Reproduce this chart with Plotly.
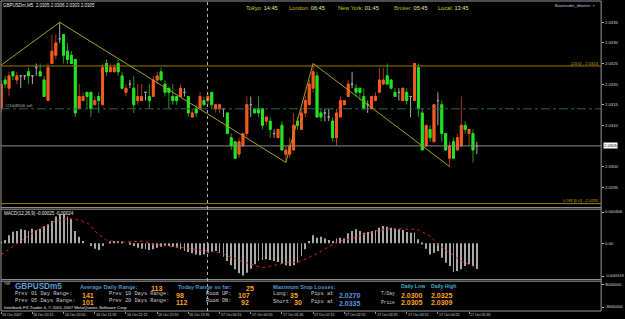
import plotly.graph_objects as go

W, H = 625, 319

# ---------------- data (GBPUSDm, M5) ----------------
opens = [2.0314, 2.0321, 2.0319, 2.0323, 2.0321, 2.0322, 2.0322, 2.0323, 2.0322, 2.0324,
         2.0323, 2.0321, 2.0316, 2.0325, 2.0327, 2.0331, 2.0332, 2.0328, 2.0327, 2.0326,
         2.0314, 2.0316, 2.0318, 2.0318, 2.0315, 2.0317, 2.0315, 2.0325, 2.0323, 2.0323,
         2.0325, 2.0322, 2.0318, 2.0320, 2.0319, 2.0316, 2.0316, 2.0318, 2.0317, 2.0317,
         2.0321, 2.0323, 2.0320, 2.0319, 2.0317, 2.0317, 2.0317, 2.0318, 2.0317, 2.0312,
         2.0314, 2.0314, 2.0316, 2.0316, 2.0318, 2.0314, 2.0314, 2.0314, 2.0313, 2.0307,
         2.0306, 2.0303, 2.0305, 2.0308, 2.0315, 2.0314, 2.0314, 2.0314, 2.0311, 2.0311,
         2.0308, 2.0307, 2.0310, 2.0303, 2.0303, 2.0304, 2.0311, 2.0309, 2.0313, 2.0315,
         2.0319, 2.0322, 2.0313, 2.0313, 2.0312, 2.0311, 2.0307, 2.0312, 2.0315, 2.0317,
         2.0320, 2.0319, 2.0319, 2.0317, 2.0315, 2.0314, 2.0316, 2.0318, 2.0320, 2.0322,
         2.0321, 2.0318, 2.0318, 2.0316, 2.0318, 2.0317, 2.0316, 2.0324, 2.0313, 2.0305,
         2.0309, 2.0306, 2.0316, 2.0315, 2.0308, 2.0302, 2.0306, 2.0304, 2.0305, 2.0310,
         2.0308, 2.0308, 2.0305]
highs = [2.0321, 2.0322, 2.0323, 2.0323, 2.0323, 2.0322, 2.0322, 2.0324, 2.0322, 2.0325,
         2.0325, 2.0322, 2.0325, 2.0332, 2.0332, 2.0335, 2.0332, 2.0330, 2.0328, 2.0326,
         2.0320, 2.0318, 2.0318, 2.0318, 2.0317, 2.0318, 2.0325, 2.0326, 2.0325, 2.0325,
         2.0326, 2.0323, 2.0320, 2.0321, 2.0322, 2.0320, 2.0320, 2.0318, 2.0320, 2.0322,
         2.0323, 2.0324, 2.0321, 2.0319, 2.0320, 2.0317, 2.0320, 2.0319, 2.0317, 2.0314,
         2.0315, 2.0318, 2.0317, 2.0318, 2.0318, 2.0315, 2.0315, 2.0314, 2.0313, 2.0308,
         2.0306, 2.0307, 2.0308, 2.0317, 2.0317, 2.0314, 2.0317, 2.0314, 2.0312, 2.0312,
         2.0309, 2.0309, 2.0311, 2.0305, 2.0307, 2.0313, 2.0312, 2.0314, 2.0317, 2.0321,
         2.0325, 2.0323, 2.0314, 2.0314, 2.0314, 2.0312, 2.0314, 2.0317, 2.0316, 2.0321,
         2.0323, 2.0320, 2.0319, 2.0319, 2.0316, 2.0317, 2.0318, 2.0324, 2.0324, 2.0325,
         2.0321, 2.0319, 2.0319, 2.0319, 2.0319, 2.0317, 2.0325, 2.0325, 2.0314, 2.0310,
         2.0310, 2.0315, 2.0318, 2.0316, 2.0308, 2.0306, 2.0307, 2.0308, 2.0317, 2.0311,
         2.0309, 2.0309, 2.0306]
lows = [2.0313, 2.0319, 2.0317, 2.0321, 2.0320, 2.0319, 2.0321, 2.0320, 2.0320, 2.0322,
        2.0322, 2.0317, 2.0316, 2.0325, 2.0326, 2.0330, 2.0325, 2.0325, 2.0325, 2.0312,
        2.0314, 2.0316, 2.0314, 2.0312, 2.0315, 2.0313, 2.0315, 2.0322, 2.0323, 2.0323,
        2.0322, 2.0319, 2.0317, 2.0319, 2.0313, 2.0315, 2.0316, 2.0316, 2.0314, 2.0317,
        2.0320, 2.0321, 2.0317, 2.0314, 2.0315, 2.0315, 2.0317, 2.0317, 2.0312, 2.0312,
        2.0312, 2.0314, 2.0315, 2.0315, 2.0314, 2.0313, 2.0313, 2.0312, 2.0308, 2.0304,
        2.0302, 2.0302, 2.0305, 2.0307, 2.0312, 2.0313, 2.0312, 2.0309, 2.0310, 2.0307,
        2.0307, 2.0307, 2.0304, 2.0301, 2.0302, 2.0304, 2.0309, 2.0309, 2.0312, 2.0315,
        2.0318, 2.0312, 2.0311, 2.0311, 2.0311, 2.0306, 2.0305, 2.0312, 2.0315, 2.0317,
        2.0319, 2.0317, 2.0316, 2.0314, 2.0313, 2.0314, 2.0316, 2.0318, 2.0320, 2.0320,
        2.0319, 2.0317, 2.0316, 2.0316, 2.0315, 2.0312, 2.0316, 2.0312, 2.0304, 2.0305,
        2.0306, 2.0306, 2.0310, 2.0306, 2.0304, 2.0300, 2.0302, 2.0304, 2.0305, 2.0308,
        2.0305, 2.0301, 2.0303]
closes = [2.0320, 2.0320, 2.0322, 2.0322, 2.0322, 2.0322, 2.0322, 2.0322, 2.0322, 2.0324,
          2.0322, 2.0317, 2.0324, 2.0328, 2.0330, 2.0331, 2.0327, 2.0326, 2.0325, 2.0313,
          2.0317, 2.0317, 2.0317, 2.0314, 2.0316, 2.0316, 2.0324, 2.0323, 2.0324, 2.0324,
          2.0323, 2.0319, 2.0319, 2.0320, 2.0315, 2.0317, 2.0317, 2.0318, 2.0316, 2.0321,
          2.0322, 2.0321, 2.0318, 2.0318, 2.0316, 2.0316, 2.0319, 2.0318, 2.0313, 2.0313,
          2.0313, 2.0317, 2.0315, 2.0317, 2.0315, 2.0315, 2.0315, 2.0314, 2.0308, 2.0305,
          2.0302, 2.0306, 2.0308, 2.0315, 2.0315, 2.0313, 2.0313, 2.0310, 2.0312, 2.0309,
          2.0308, 2.0309, 2.0304, 2.0304, 2.0305, 2.0310, 2.0310, 2.0313, 2.0316, 2.0320,
          2.0323, 2.0312, 2.0312, 2.0313, 2.0312, 2.0307, 2.0313, 2.0316, 2.0316, 2.0320,
          2.0320, 2.0318, 2.0318, 2.0314, 2.0315, 2.0317, 2.0317, 2.0321, 2.0321, 2.0320,
          2.0319, 2.0317, 2.0318, 2.0319, 2.0316, 2.0317, 2.0325, 2.0314, 2.0304, 2.0310,
          2.0307, 2.0315, 2.0316, 2.0308, 2.0304, 2.0305, 2.0302, 2.0307, 2.0310, 2.0309,
          2.0309, 2.0304, 2.0305]

# MACD(12,26,9) main (histogram) and signal, in units of 1e-6
macd_main_e6 = [13, 33, 78, 114, 121, 137, 130, 121, 143, 130,
                143, 170, 186, 218, 261, 284, 284, 261, 241, 121,
                65, 23, 0, -26, -52, -65, -26, 0, 13, 23,
                23, 13, 0, -13, -26, -42, -52, -59, -65, -59,
                -42, -33, -26, -26, -33, -42, -59, -75, -85, -98,
                -108, -117, -108, -91, -85, -75, -91, -130, -173, -215,
                -254, -293, -313, -287, -248, -205, -173, -163, -156, -163,
                -173, -183, -196, -215, -222, -215, -189, -124, -59, 23,
                78, 55, 65, 46, 33, 23, 46, 55, 46, 98,
                121, 137, 121, 104, 111, 121, 130, 153, 170, 163,
                153, 143, 137, 130, 111, 104, 104, 39, -10, -52,
                -108, -91, -75, -140, -189, -222, -280, -271, -254, -222,
                -205, -222, -250]
macd_signal_e6 = [-108, -82, -55, -28, -5, 20, 45, 75, 104, 125,
                  145, 165, 186, 200, 215, 228, 236, 241, 241, 235,
                  225, 213, 202, 170, 121, 85, 55, 33, 25, 18,
                  13, 12, 12, 13, 13, 18, 23, 15, 5, -10,
                  -14, -17, -20, -23, -26, -32, -37, -43, -48, -54,
                  -59, -64, -70, -75, -80, -86, -91, -106, -122, -140,
                  -153, -166, -179, -192, -205, -216, -227, -238, -232, -222,
                  -214, -205, -197, -189, -187, -185, -183, -169, -155, -140,
                  -120, -100, -80, -59, -35, -11, 13, 21, 30, 38,
                  46, 60, 74, 88, 99, 110, 121, 127, 132, 138,
                  143, 143, 143, 143, 143, 143, 137, 130, 111, 91,
                  72, 31, -10, -37, -64, -91, -118, -145, -173, -189,
                  -205, -222, -240]

time_labels = ["16 Oct 2007", "16 Oct 20:15", "16 Oct 20:55", "16 Oct 21:35", "16 Oct 22:15",
               "16 Oct 22:55", "16 Oct 23:35", "17 Oct 00:15", "17 Oct 00:55", "17 Oct 01:35",
               "17 Oct 02:15", "17 Oct 02:55", "17 Oct 03:35", "17 Oct 04:15", "17 Oct 04:55",
               "17 Oct 05:35"]
time_label_bars = [0, 8, 16, 24, 32, 40, 48, 56, 64, 72, 80, 88, 96, 104, 112, 120]

price_ticks = [2.0295, 2.0300, 2.0310, 2.0315, 2.0320, 2.0325, 2.0330, 2.0335]
macd_ticks = [0.000306, 0.0, -0.000319]
macd_tick_text = ["0.000306", "0.00", "-0.000319"]

zigzag_bars = [-0.3, 15, 73, 80, 115]
zigzag_prices = [2.03244, 2.0335, 2.0301, 2.0325, 2.0300]

fib_236_price = 2.03244
fib_low_price = 2.0291
bid_price = 2.0305
order_price = 2.0314
order_label = "#21008506 sell"
day_sep_bar = 52.9

# ---------------- helpers ----------------
def py(y):
    return 1 - y / H


def pxx(x):
    return x / W


n = len(opens)
idx = list(range(n))
up = [i for i in idx if closes[i] > opens[i]]
dn = [i for i in idx if closes[i] < opens[i]]
dj = [i for i in idx if closes[i] == opens[i]]


def candles(ids, full, line_color, fill_color):
    o = [opens[i] for i in ids]
    c = [closes[i] for i in ids]
    if full:
        h = [highs[i] for i in ids]
        l = [lows[i] for i in ids]
    else:
        h = [max(a, b) for a, b in zip(o, c)]
        l = [min(a, b) for a, b in zip(o, c)]
    style = dict(line=dict(color=line_color, width=1), fillcolor=fill_color)
    return go.Candlestick(x=ids, open=o, high=h, low=l, close=c,
                          increasing=style, decreasing=style, whiskerwidth=0,
                          hoverinfo="skip", showlegend=False, xaxis="x", yaxis="y")


UP_FILL, UP_WICK = "#f45a1e", "#a8381a"
DN_FILL, DN_WICK = "#22e422", "#1b9a1b"
DOJI = "#a8a8a8"

fig = go.Figure()
fig.add_trace(candles(up, True, UP_WICK, UP_WICK))
fig.add_trace(candles(dn, True, DN_WICK, DN_WICK))
fig.add_trace(candles(up, False, UP_FILL, UP_FILL))
fig.add_trace(candles(dn, False, DN_FILL, DN_FILL))
fig.add_trace(candles(dj, True, DOJI, DOJI))

# zigzag
fig.add_trace(go.Scatter(x=zigzag_bars, y=zigzag_prices, mode="lines",
                         line=dict(color="#a8a020", width=1), hoverinfo="skip",
                         showlegend=False, xaxis="x", yaxis="y"))

# MACD
fig.add_trace(go.Bar(x=idx, y=[v * 1e-6 for v in macd_main_e6], width=0.22,
                     marker=dict(color="#a9a9a9", line=dict(width=0)),
                     hoverinfo="skip", showlegend=False, xaxis="x", yaxis="y2"))
fig.add_trace(go.Scatter(x=idx, y=[v * 1e-6 for v in macd_signal_e6], mode="lines",
                         line=dict(color="#d42020", width=1, dash="dot"),
                         hoverinfo="skip", showlegend=False, xaxis="x", yaxis="y2"))
# info panel axis holder
fig.add_trace(go.Scatter(x=[None], y=[None], mode="markers", showlegend=False,
                         hoverinfo="skip", xaxis="x", yaxis="y3"))

AX_FONT = dict(family="Liberation Sans", size=4.2, color="#d8d8d8")
price_lo = 2.0335 - (207 - 22.3) / 41200
price_hi = 2.0335 + (22.3 - 3) / 41200

fig.update_layout(
    width=W, height=H, margin=dict(l=0, r=0, t=0, b=0),
    paper_bgcolor="#000000", plot_bgcolor="#000000", showlegend=False,
    font=dict(family="Liberation Sans", color="#d8d8d8"),
    xaxis=dict(domain=[pxx(1), pxx(606)], range=[-0.06, 153.88], anchor="y3",
               showgrid=False, zeroline=False, showline=False, showticklabels=False,
               ticks="outside", ticklen=2, tickcolor="#909090", tickvals=time_label_bars,
               rangeslider=dict(visible=False), fixedrange=True),
    yaxis=dict(domain=[py(207), py(3)], range=[price_lo, price_hi], side="right", anchor="x",
               showgrid=False, zeroline=False, showline=False,
               tickvals=price_ticks, ticktext=[f"{p:.4f}" for p in price_ticks],
               ticks="outside", ticklen=2, tickcolor="#c0c0c0", tickfont=AX_FONT),
    yaxis2=dict(domain=[py(279.5), py(209.5)], range=[-0.0003532, 0.0003304], side="right",
                anchor="x", showgrid=False, zeroline=False, showline=False,
                tickvals=macd_ticks, ticktext=macd_tick_text,
                ticks="outside", ticklen=2, tickcolor="#c0c0c0", tickfont=AX_FONT),
    yaxis3=dict(domain=[py(311), py(281)], range=[0, 1], side="right", anchor="x",
                showgrid=False, zeroline=False, showline=False,
                tickvals=[0.867, 0.133], ticktext=["9000000", "-9000000"],
                ticks="outside", ticklen=2, tickcolor="#c0c0c0", tickfont=AX_FONT),
)

shapes = []
FRAME = "#9a9a9a"
# outer frame
shapes.append(dict(type="rect", xref="paper", yref="paper", x0=pxx(1), x1=pxx(606),
                   y0=py(311), y1=py(1), line=dict(color=FRAME, width=1)))
# separators
for yy in (207.6, 209.2, 279.6, 281.2):
    shapes.append(dict(type="line", xref="paper", yref="paper", x0=pxx(1), x1=pxx(606),
                       y0=py(yy), y1=py(yy), line=dict(color=FRAME, width=1)))
# horizontal price levels
shapes.append(dict(type="line", xref="paper", yref="y", x0=pxx(1), x1=pxx(606),
                   y0=fib_236_price, y1=fib_236_price, line=dict(color="#9c7e00", width=1)))
shapes.append(dict(type="line", xref="paper", yref="y", x0=pxx(1), x1=pxx(606),
                   y0=fib_low_price, y1=fib_low_price, line=dict(color="#9c7e00", width=1)))
shapes.append(dict(type="line", xref="paper", yref="y", x0=pxx(1), x1=pxx(606),
                   y0=bid_price, y1=bid_price, line=dict(color="#8a8a8a", width=1)))
shapes.append(dict(type="line", xref="paper", yref="y", x0=pxx(1), x1=pxx(606),
                   y0=order_price, y1=order_price, line=dict(color="#2f6258", width=1, dash="dashdot")))
# day separator
shapes.append(dict(type="line", xref="x", yref="paper", x0=day_sep_bar, x1=day_sep_bar,
                   y0=py(311), y1=py(2), line=dict(color="#b8b8b8", width=1, dash="dot")))
fig.update_layout(shapes=shapes)

ann = []


def txt(x, y, text, color, size, family="Liberation Sans", bold=False, anchor="left", **kw):
    if bold:
        text = f"<b>{text}</b>"
    d = dict(x=pxx(x), y=py(y), xref="paper", yref="paper", text=text, showarrow=False,
             xanchor=anchor, yanchor="middle", borderpad=0,
             font=dict(color=color, size=size, family=family))
    d.update(kw)
    ann.append(d)


last = n - 1
txt(2, 5.5, f"GBPUSDm,M5  {opens[last]:.4f} {highs[last]:.4f} {lows[last]:.4f} {closes[last]:.4f}",
    "#e8e8e8", 4.5)
txt(246.5, 7.7, "<span style='color:#d8d820'>Tokyo:</span> 14:45", "#e6e6a8", 5.6)
txt(290.5, 7.7, "<span style='color:#d8b400'>London:</span> 06:45", "#e6e6a8", 5.6)
txt(340, 7.7, "<span style='color:#b4d200'>New York:</span> 01:45", "#e6e6a8", 5.6)
txt(396.5, 7.7, "<span style='color:#b8b800'>Broker:</span> 05:45", "#e6e6a8", 5.6)
txt(440.5, 7.7, "<span style='color:#d8d800'>Local:</span> 13:45", "#e6e6a8", 5.6)
txt(558, 5.8, "Boostrader_ibfxmini  ×", "#b8c8e0", 4.0)
txt(604.5, 63, f"[23.6] - {fib_236_price:.4f}", "#c8a200", 4.2, anchor="right")
txt(604.5, 200.3, f"LOW [0.0] - {fib_low_price:.4f}", "#c8a200", 4.2, anchor="right")
txt(4, 105.7, order_label, "#b0b0b0", 4.0)
# current price box
txt(607.5, 145.4, f"{bid_price:.4f}", "#000000", 4.2, bgcolor="#ffffff")
# MACD label
txt(3, 213.3, f"MACD(12,26,9) {macd_main_e6[last] * 1e-6:.5f} {macd_signal_e6[last] * 1e-6:.5f}",
    "#e8e8e8", 4.5)

# info panel
BLUE = "#4f94c8"
ORANGE = "#ffa41a"
GREY = "#cfcfcf"
MONO = "Liberation Mono"
MS = 5.3
txt(3, 284, "TSR", "#d0d0d0", 3.2)
txt(14, 286.3, "GBPUSDm5", "#5a9fd8", 8.2, bold=True)
txt(80, 287, "Average Daily Range:", BLUE, 5.6, bold=True)
txt(151.5, 288, "113", ORANGE, 7.0, bold=True)
txt(178.5, 287, "Today Range so far:", BLUE, 5.6, bold=True)
txt(247, 288, "25", ORANGE, 7.0, bold=True)
txt(274, 287, "Maximum Stop Losses:", BLUE, 5.6, bold=True)
txt(403.5, 286, "Daily Low", "#3fb0c8", 5.2, bold=True)
txt(433, 286, "Daily High", "#3fb0c8", 5.2, bold=True)

txt(14, 294.4, "Prev 01 Day Range:", GREY, MS, family=MONO)
txt(81.5, 295.8, "141", ORANGE, 7.0, bold=True)
txt(109, 294.4, "Prev 10 Days Range:", GREY, MS, family=MONO)
txt(176, 295.8, "98", ORANGE, 7.0, bold=True)
txt(207, 294.4, "Room UP:", GREY, MS, family=MONO)
txt(238.5, 295.8, "107", ORANGE, 7.0, bold=True)
txt(274, 294.4, "Long:", GREY, MS, family=MONO)
txt(291, 295.8, "35", ORANGE, 7.0, bold=True)
txt(312, 294.4, "Pips at", GREY, MS, family=MONO)
txt(340.5, 295.8, "2.0270", "#5a96e0", 7.0, bold=True)
txt(383, 293.5, "T/Day", GREY, 4.6, family=MONO)
txt(403.5, 295.8, "2.0300", ORANGE, 7.0, bold=True)
txt(433, 295.8, "2.0325", ORANGE, 7.0, bold=True)

txt(14, 301.2, "Prev 05 Days Range:", GREY, MS, family=MONO)
txt(81.5, 302.6, "101", ORANGE, 7.0, bold=True)
txt(109, 301.2, "Prev 20 Days Range:", GREY, MS, family=MONO)
txt(176, 302.6, "112", ORANGE, 7.0, bold=True)
txt(207, 301.2, "Room DN:", GREY, MS, family=MONO)
txt(241.5, 302.6, "92", ORANGE, 7.0, bold=True)
txt(274, 301.6, "Short:", GREY, MS, family=MONO)
txt(295.5, 302.6, "30", ORANGE, 7.0, bold=True)
txt(312, 301.6, "Pips at", GREY, MS, family=MONO)
txt(340.5, 303, "2.0335", "#5a96e0", 7.0, bold=True)
txt(383, 302.6, "Price", GREY, 4.6, family=MONO)
txt(403.5, 302.8, "2.0305", ORANGE, 7.0, bold=True)
txt(433, 302.8, "2.0309", ORANGE, 7.0, bold=True)
txt(3, 307.4, "Interbank FX Trader 4, © 2001-2007 MetaQuotes Software Corp.", "#e8e8e8", 4.3)

# time axis labels (left aligned at the bar, like MT4)
for b, lab in zip(time_label_bars, time_labels):
    ann.append(dict(x=b, y=py(315.2), xref="x", yref="paper", text=lab, showarrow=False,
                    xanchor="left", yanchor="middle", xshift=0, borderpad=0,
                    font=dict(color="#d8d8d8", size=3.6, family="Liberation Sans")))

fig.update_layout(annotations=ann)

fig.write_html("out.html", config={"displayModeBar": False})
